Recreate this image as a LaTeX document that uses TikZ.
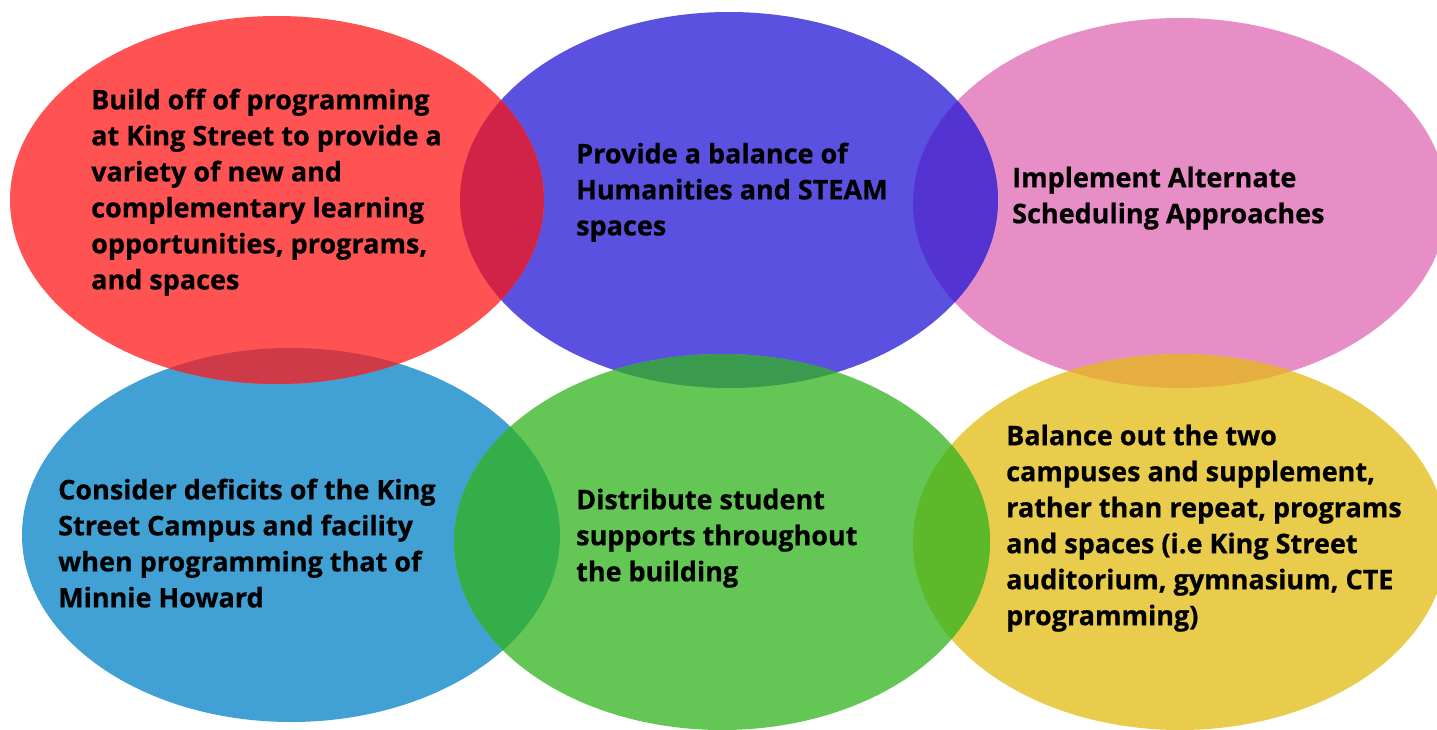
\documentclass[tikz,border=0pt]{standalone}
\usepackage{fontspec}
\setmainfont{Open Sans}[BoldFeatures={FakeBold=0.6}]
\definecolor{cRed}{HTML}{FF5252}
\definecolor{cPurple}{HTML}{5B51E0}
\definecolor{cPink}{HTML}{E88EC7}
\definecolor{cBlue}{HTML}{41A0D4}
\definecolor{cGreen}{HTML}{63C655}
\definecolor{cYellow}{HTML}{E9CC4B}
\definecolor{oRP}{HTML}{D12348}
\definecolor{oRB}{HTML}{CE3A47}
\definecolor{oPK}{HTML}{5433D3}
\definecolor{oPG}{HTML}{3A9A4D}
\definecolor{oBG}{HTML}{33AE48}
\definecolor{oGY}{HTML}{5DB82A}
\definecolor{oKY}{HTML}{E6AE40}
\newcommand{\ellRed}{(277,200) ellipse [x radius=267, y radius=184]}
\newcommand{\ellPurple}{(729,200) ellipse [x radius=269, y radius=188]}
\newcommand{\ellPink}{(1180,203) ellipse [x radius=267, y radius=185]}
\newcommand{\ellBlue}{(291,535) ellipse [x radius=269, y radius=187]}
\newcommand{\ellGreen}{(722,542) ellipse [x radius=268, y radius=188]}
\newcommand{\ellYellow}{(1180,542) ellipse [x radius=267, y radius=188]}
\tikzset{
  label text/.style={anchor=north west, inner sep=0pt, align=left,
    font=\fontsize{27}{36}\selectfont\bfseries, text=black}
}
\begin{document}
\begin{tikzpicture}[x=1pt,y=-1pt]
\useasboundingbox (0,0) rectangle (1437,730);
\clip (0,0) rectangle (1437,730);
\fill[white] (0,0) rectangle (1437,730);
% base ellipses
\fill[cPink] \ellPink;
\fill[cYellow] \ellYellow;
\fill[cPurple] \ellPurple;
\fill[cBlue] \ellBlue;
\fill[cRed] \ellRed;
\fill[cGreen] \ellGreen;
% overlaps
\begin{scope}\clip \ellRed; \fill[oRP] \ellPurple;\end{scope}
\begin{scope}\clip \ellRed; \fill[oRB] \ellBlue;\end{scope}
\begin{scope}\clip \ellPurple; \fill[oPK] \ellPink;\end{scope}
\begin{scope}\clip \ellPurple; \fill[oPG] \ellGreen;\end{scope}
\begin{scope}\clip \ellBlue; \fill[oBG] \ellGreen;\end{scope}
\begin{scope}\clip \ellGreen; \fill[oGY] \ellYellow;\end{scope}
\begin{scope}\clip \ellPink; \fill[oKY] \ellYellow;\end{scope}
% texts
\node[label text] (tRed) at (91,88.5) {Build off of programming\\at King Street to provide a\\variety of new and\\complementary learning\\opportunities, programs,\\and spaces};
\node[label text] (tPurple) at (576,142.5) {Provide a balance of\\Humanities and STEAM\\spaces};
\node[label text] (tPink) at (1012,166.5) {Implement Alternate\\Scheduling Approaches};
\node[label text] (tBlue) at (58,478.5) {Consider deficits of the King\\Street Campus and facility\\when programming that of\\Minnie Howard};
\node[label text] (tGreen) at (576,488.5) {Distribute student\\supports throughout\\the building};
\node[label text] (tYellow) at (1006,424.5) {Balance out the two\\campuses and supplement,\\rather than repeat, programs\\and spaces (i.e King Street\\auditorium, gymnasium, CTE\\programming)};
\end{tikzpicture}
\end{document}
